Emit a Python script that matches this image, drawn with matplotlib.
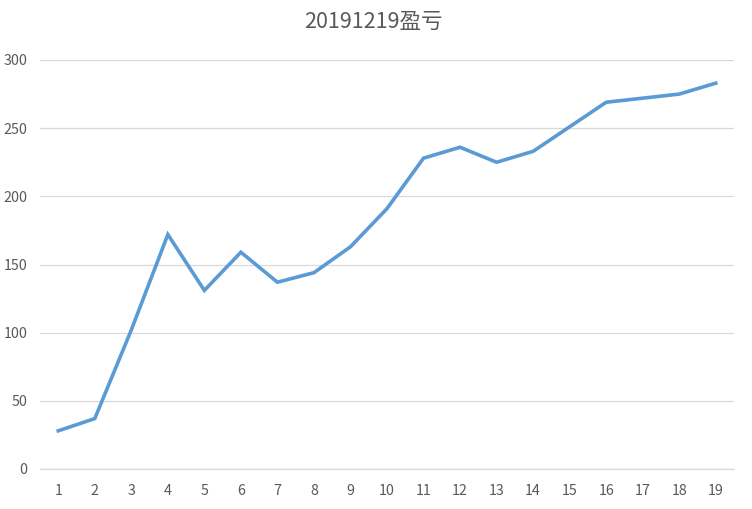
import matplotlib
matplotlib.use("Agg")
import matplotlib.pyplot as plt

plt.rcParams['font.family'] = ['Noto Sans CJK SC', 'DejaVu Sans']

days = list(range(1, 20))
profit = [28, 37, 102, 172, 131, 159, 137, 144, 163, 191,
          228, 236, 225, 233, 251, 269, 272, 275, 283]
title = '20191219盈亏'

text_color = '#595959'
line_color = '#5B9BD5'
grid_color = '#D9D9D9'

fig = plt.figure(figsize=(7.52, 5.09), dpi=100)
ax = fig.add_axes([40 / 752, 1 - 469 / 509, 694 / 752, 409 / 509])

ax.plot(days, profit, color=line_color, linewidth=2.6, solid_joinstyle='miter',
        zorder=3)

ax.set_xlim(0.5, 19.5)
ax.set_ylim(0, 300)
ax.set_xticks(days)
ax.set_yticks(range(0, 301, 50))
ax.grid(axis='y', color=grid_color, linewidth=0.9)
ax.axhline(0, color=grid_color, linewidth=0.9, clip_on=False, zorder=1)
ax.set_axisbelow(True)
for s in ax.spines.values():
    s.set_visible(False)
ax.tick_params(length=0, labelsize=10.3, colors=text_color)
ax.tick_params(axis='x', pad=11)
ax.tick_params(axis='y', pad=9)

fig.suptitle(title, x=373 / 752, y=1 - 22 / 509, va='center',
             fontsize=15.5, color=text_color)

fig.savefig('out.png', dpi=100)
